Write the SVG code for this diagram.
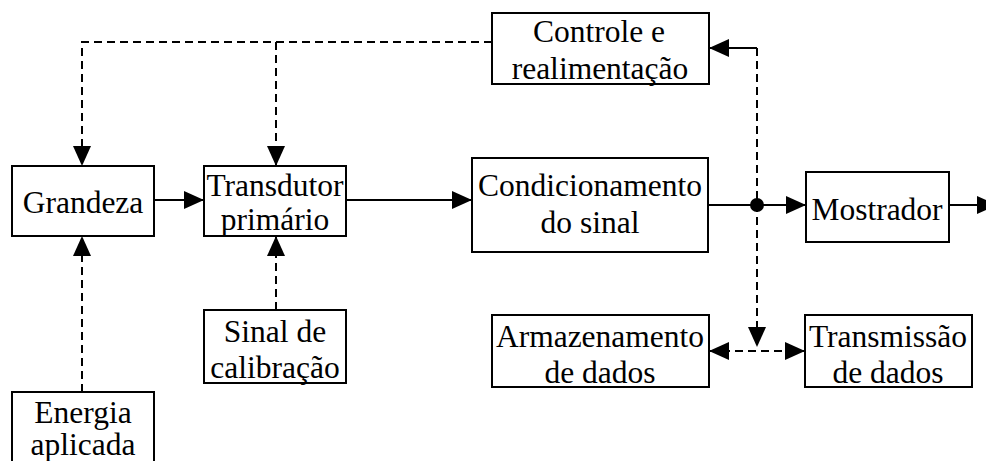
<svg xmlns="http://www.w3.org/2000/svg" width="986" height="461" viewBox="0 0 986 461">
<style>
.box{fill:#fff;stroke:#000;stroke-width:2}
.t{font-size:31.5px;fill:#000;text-anchor:middle}
.c{fill:none;stroke:#000;stroke-width:2}
.d{fill:none;stroke:#000;stroke-width:2;stroke-dasharray:8 5}
</style>
<defs>
<marker id="ah" markerUnits="userSpaceOnUse" markerWidth="20" markerHeight="18" refX="20" refY="9" orient="auto-start-reverse" overflow="visible">
<path d="M0,0 L20,9 L0,18 Z" fill="#000"/>
</marker>
</defs>
<rect width="986" height="461" fill="#fff"/>
<g id="connectors">
<path class="d" d="M492,42 H82 V166" marker-end="url(#ah)"/>
<path class="d" d="M276,42 V166" stroke-width="3" marker-end="url(#ah)"/>
<path class="c" d="M154,200 H204" marker-end="url(#ah)"/>
<path class="c" d="M346,200 H472" marker-end="url(#ah)"/>
<path class="c" d="M708,205 H806" marker-end="url(#ah)"/>
<circle cx="757" cy="205" r="7" fill="#000"/>
<path class="c" d="M949,205 H997" marker-end="url(#ah)"/>
<path class="c" d="M757,48 H709" marker-end="url(#ah)"/>
<path class="d" d="M757,48 V347" marker-end="url(#ah)"/>
<path class="d" d="M709,351 H805" marker-start="url(#ah)" marker-end="url(#ah)"/>
<path class="d" d="M82,392 V236" marker-end="url(#ah)"/>
<path class="d" d="M276,310 V236" marker-end="url(#ah)"/>
</g>
<g font-family="'Liberation Serif', 'Times New Roman', 'DejaVu Serif', serif">
<g id="grandeza">
<rect class="box" x="12" y="166" width="142" height="70"/>
<text class="t" x="83" y="213">Grandeza</text>
</g>
<g id="transdutor">
<rect class="box" x="204" y="166" width="142" height="70"/>
<text class="t" x="275" y="196">Transdutor</text>
<text class="t" x="275" y="230">primário</text>
</g>
<g id="controle">
<rect class="box" x="492" y="13" width="217" height="71"/>
<text class="t" x="599" y="42">Controle e</text>
<text class="t" x="600" y="79">realimentação</text>
</g>
<g id="condicionamento">
<rect class="box" x="472" y="158" width="236" height="94"/>
<text class="t" x="590" y="196">Condicionamento</text>
<text class="t" x="590" y="233">do sinal</text>
</g>
<g id="mostrador">
<rect class="box" x="806" y="172" width="143" height="70"/>
<text class="t" x="877" y="220">Mostrador</text>
</g>
<g id="sinal">
<rect class="box" x="204" y="310" width="142" height="73"/>
<text class="t" x="275" y="342">Sinal de</text>
<text class="t" x="275" y="378">calibração</text>
</g>
<g id="armazenamento">
<rect class="box" x="492" y="315" width="217" height="72"/>
<text class="t" x="600" y="347">Armazenamento</text>
<text class="t" x="600" y="383">de dados</text>
</g>
<g id="transmissao">
<rect class="box" x="805" y="315" width="167" height="72"/>
<text class="t" x="888" y="347">Transmissão</text>
<text class="t" x="888" y="383">de dados</text>
</g>
<g id="energia">
<rect class="box" x="12" y="392" width="142" height="90"/>
<text class="t" x="83" y="423">Energia</text>
<text class="t" x="83" y="455">aplicada</text>
</g>
</g>
</svg>
